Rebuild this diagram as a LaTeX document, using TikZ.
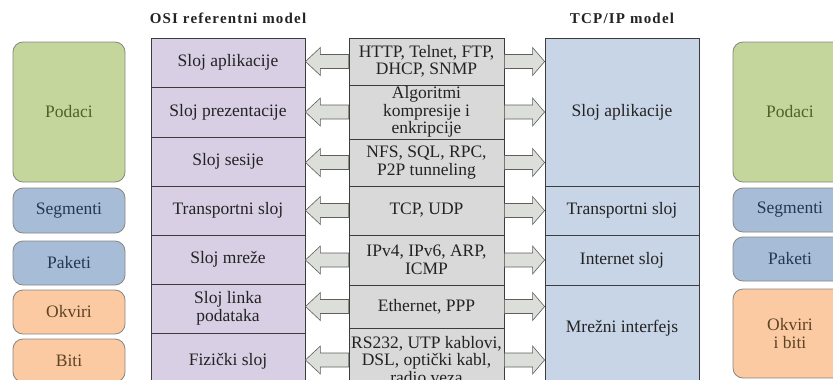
\documentclass[tikz,border=0pt]{standalone}
\usepackage{fontspec}
\setmainfont{Liberation Serif}
\usetikzlibrary{calc}

\definecolor{osiF}{RGB}{216,207,229}
\definecolor{tcpF}{RGB}{200,213,231}
\definecolor{protF}{RGB}{217,217,217}
\definecolor{lineC}{RGB}{60,60,60}
\definecolor{arrF}{RGB}{220,222,218}
\definecolor{arrD}{RGB}{95,95,95}
\definecolor{grnF}{RGB}{196,214,155}
\definecolor{grnT}{RGB}{78,98,40}
\definecolor{bluF}{RGB}{167,188,214}
\definecolor{bluT}{RGB}{36,56,86}
\definecolor{orgF}{RGB}{251,201,162}
\definecolor{orgT}{RGB}{92,68,36}
\definecolor{rimC}{RGB}{135,135,130}
\definecolor{txtC}{RGB}{35,35,35}

\tikzset{
  txt/.style={font=\fontsize{17.5}{17.5}\selectfont, text=txtC, align=center, inner sep=0pt},
  layer/.style={txt, draw=lineC, line width=0.8pt, minimum width=154pt},
  osi/.style={layer, fill=osiF},
  tcp/.style={layer, fill=tcpF},
  prot/.style={layer, fill=protF, minimum width=155pt},
  rbox/.style={txt, draw=rimC, line width=0.8pt, rounded corners=10pt, minimum width=112pt},
  grn/.style={rbox, fill=grnF, text=grnT},
  blu/.style={rbox, fill=bluF, text=bluT},
  org/.style={rbox, fill=orgF, text=orgT},
  ttl/.style={font=\fontsize{15}{15}\selectfont\bfseries\addfontfeatures{LetterSpace=8}, text=txtC, inner sep=0pt},
  barrow/.style={draw=arrD, fill=arrF, line width=0.6pt, line join=miter},
}

% block arrow: #1 tail point, #2 tip point, #3 head length
\newcommand\blockarr[3]{%
  \draw[barrow] let \p1=(#1), \p2=(#2), \n1={sign(\x1-\x2)*#3} in
    (\x1,\y1+7pt) -- (\x2+\n1,\y1+7pt) -- (\x2+\n1,\y1+14pt) -- (\x2,\y1)
    -- (\x2+\n1,\y1-14pt) -- (\x2+\n1,\y1-7pt) -- (\x1,\y1-7pt) -- cycle;}

\begin{document}
\begin{tikzpicture}[x=1pt,y=-1pt]
\useasboundingbox (0,0) rectangle (833,380);
\clip (0,0) rectangle (833,380);

% headings
\node[ttl] (h1) at (228,18) {OSI referentni model};
\node[ttl] (h2) at (622,18) {TCP/IP model};

% OSI layers
\node[osi, minimum height=49pt] (o1) at (228,62.5) {Sloj aplikacije};
\node[osi, minimum height=50pt] (o2) at (228,112) {Sloj prezentacije};
\node[osi, minimum height=49pt] (o3) at (228,161.5) {Sloj sesije};
\node[osi, minimum height=49pt] (o4) at (228,210.5) {Transportni sloj};
\node[osi, minimum height=49pt] (o5) at (228,259.5) {Sloj mreže};
\node[osi, minimum height=49pt] (o6) at (228,308.5) {Sloj linka\\podataka};
\node[osi, minimum height=57pt] (o7) at (228,361.5) {Fizički sloj};

% protocols
\node[prot, minimum height=47pt] (g1) at (426.5,61.5) {HTTP, Telnet, FTP,\\DHCP, SNMP};
\node[prot, minimum height=54pt] (g2) at (426.5,112) {Algoritmi\\kompresije i\\enkripcije};
\node[prot, minimum height=47pt] (g3) at (426.5,162.5) {NFS, SQL, RPC,\\P2P tunneling};
\node[prot, minimum height=49pt] (g4) at (426.5,210.5) {TCP, UDP};
\node[prot, minimum height=50pt] (g5) at (426.5,260) {IPv4, IPv6, ARP,\\ICMP};
\node[prot, minimum height=43pt] (g6) at (426.5,306.5) {Ethernet, PPP};
\node[prot, minimum height=64pt] (g7) at (426.5,360) {RS232, UTP kablovi,\\DSL, optički kabl,\\radio veza};

% TCP/IP layers
\node[tcp, minimum height=148pt] (t1) at (622,112) {Sloj aplikacije};
\node[tcp, minimum height=49pt] (t2) at (622,210.5) {Transportni sloj};
\node[tcp, minimum height=50pt] (t3) at (622,260) {Internet sloj};
\node[tcp, minimum height=107pt, anchor=north] (t4) at (622,285) {};
\node[txt] (t4l) at (622,328) {Mrežni interfejs};

% arrows towards the OSI model
\blockarr{g1.west}{o1.east |- g1.west}{15pt}
\blockarr{g2.west}{o2.east |- g2.west}{15pt}
\blockarr{g3.west}{o3.east |- g3.west}{15pt}
\blockarr{g4.west}{o4.east |- g4.west}{15pt}
\blockarr{g5.west}{o5.east |- g5.west}{15pt}
\blockarr{g6.west}{o6.east |- g6.west}{15pt}
\blockarr{g7.west}{o7.east |- g7.west}{15pt}

% arrows towards the TCP/IP model
\blockarr{g1.east}{t1.west |- g1.east}{12pt}
\blockarr{g2.east}{t1.west |- g2.east}{12pt}
\blockarr{g3.east}{t1.west |- g3.east}{12pt}
\blockarr{g4.east}{t2.west |- g4.east}{12pt}
\blockarr{g5.east}{t3.west |- g5.east}{12pt}
\blockarr{g6.east}{t4.west |- g6.east}{12pt}
\blockarr{g7.east}{t4.west |- g7.east}{12pt}

% data units, left
\node[grn, minimum height=140pt] (dl1) at (69,112) {Podaci};
\node[blu, minimum height=45pt] (dl2) at (69,210.5) {Segmenti};
\node[blu, minimum height=44pt] (dl3) at (69,263) {Paketi};
\node[org, minimum height=44pt] (dl4) at (69,312) {Okviri};
\node[org, minimum height=43pt] (dl5) at (69,360.5) {Biti};

% data units, right
\node[grn, minimum width=114pt, minimum height=140pt] (dr1) at (790,112) {Podaci};
\node[blu, minimum width=114pt, minimum height=44pt] (dr2) at (790,210) {Segmenti};
\node[blu, minimum width=114pt, minimum height=44pt] (dr3) at (790,259) {Paketi};
\node[org, minimum width=114pt, minimum height=89pt] (dr4) at (790,333.5) {Okviri\\i biti};
\end{tikzpicture}
\end{document}
